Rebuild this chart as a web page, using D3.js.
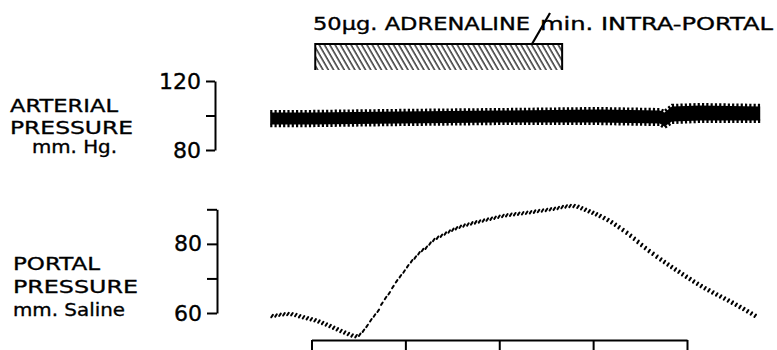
<!DOCTYPE html>
<html lang="en">
<head>
<script src="https://d3js.org/d3.v7.min.js"></script>
<style>
  body { margin: 0; background: #fff; }
  text { font-family: "DejaVu Sans", sans-serif; fill: #000; stroke: #000; stroke-width: 0.35; }
</style>
</head>
<body>
<script>
// time in minutes from start of infusion, one tick per minute
var timeTicks = [0, 1, 2, 3, 4];
var infusion = [0.04, 2.67];

// arterial pressure envelope (mm Hg)
var artTime = [-0.44, 0, 0.94, 2.0, 3.06, 3.71, 3.76, 3.84, 4.14, 4.78];
var artSys  = [103.2, 103.2, 103.8, 104.3, 104.9, 104.3, 103.2, 106.7, 107.2, 106.7];
var artDia  = [93.3, 93.3, 93.9, 94.5, 94.5, 93.9, 92.2, 95.1, 95.7, 95.7];
var artTicks = [80, 100, 120];
var artTickText = ["80", "", "120"];

// portal pressure (mm saline)
var portalTime  = [-0.42, -0.23, -0.09, 0.06, 0.20, 0.34, 0.48, 0.59, 0.65, 0.71, 0.76, 0.83, 0.88, 0.94,
                   1.00, 1.05, 1.10, 1.16, 1.23, 1.28, 1.40, 1.55, 1.69, 1.87, 2.04, 2.29, 2.57, 2.78,
                   2.94, 3.15, 3.36, 3.58, 3.79, 4.00, 4.17, 4.35, 4.53, 4.75];
var portalValue = [59.1, 59.7, 58.8, 57.7, 56.2, 54.5, 53.3, 56.2, 58.6, 60.6, 63.2, 65.8, 68.1, 70.4,
                   72.5, 74.5, 75.9, 77.7, 79.1, 80.6, 82.6, 84.6, 85.8, 87.0, 88.1, 89.0, 90.1, 91.0,
                   89.6, 87.0, 83.2, 78.3, 74.2, 70.4, 67.5, 64.9, 62.3, 58.8];
var portalTicks = [60, 70, 80, 90];
var portalTickText = ["60", "", "80", ""];

const svg = d3.select("body").append("svg")
  .attr("width", 777)
  .attr("height", 350);

const x = d3.scaleLinear().domain([0, 4]).range([311.5, 687]);
const yArt = d3.scaleLinear().domain([80, 120]).range([150, 81]);
const yPor = d3.scaleLinear().domain([60, 90]).range([313, 209.3]);

// hatch pattern for the infusion bar
const defs = svg.append("defs");
defs.append("pattern")
  .attr("id", "hatch")
  .attr("patternUnits", "userSpaceOnUse")
  .attr("width", 4.6).attr("height", 10)
  .attr("patternTransform", "rotate(-30)")
  .append("line")
  .attr("x1", 1).attr("y1", 0).attr("x2", 1).attr("y2", 10)
  .attr("stroke", "#000").attr("stroke-width", 1.2);

// infusion bar
const bx0 = x(infusion[0]), bx1 = x(infusion[1]);
svg.append("rect")
  .attr("x", bx0).attr("y", 44)
  .attr("width", bx1 - bx0).attr("height", 26)
  .attr("fill", "url(#hatch)");
svg.append("path")
  .attr("d", "M" + bx0 + ",70V44H" + bx1 + "V70")
  .attr("fill", "none").attr("stroke", "#000").attr("stroke-width", 2);

// title
svg.append("text").attr("x", 313).attr("y", 30)
  .attr("font-size", 17.5).attr("textLength", 217).attr("lengthAdjust", "spacingAndGlyphs")
  .text("50µg. ADRENALINE");
svg.append("text").attr("x", 540).attr("y", 30)
  .attr("font-size", 17.5).attr("textLength", 233).attr("lengthAdjust", "spacingAndGlyphs")
  .text("min. INTRA-PORTAL");
svg.append("line")
  .attr("x1", 532).attr("y1", 44).attr("x2", 550).attr("y2", 13)
  .attr("stroke", "#000").attr("stroke-width", 2.2);

// left labels
function label(txt, lx, ly, w) {
  svg.append("text").attr("x", lx).attr("y", ly)
    .attr("font-size", 18.5).attr("textLength", w).attr("lengthAdjust", "spacingAndGlyphs")
    .text(txt);
}
label("ARTERIAL", 10, 112, 108);
label("PRESSURE", 10, 134, 123);
label("mm. Hg.", 32, 153, 85);
label("PORTAL", 13, 270, 87);
label("PRESSURE", 13, 293, 125);
label("mm. Saline", 13, 316, 112);

function styleAxis(g) {
  g.select(".domain").attr("stroke-width", 2);
  g.selectAll(".tick line").attr("stroke-width", 2);
  g.selectAll(".tick text").attr("font-size", 22).attr("font-family", "DejaVu Sans, sans-serif");
}

svg.append("g").attr("transform", "translate(215,0)")
  .call(d3.axisLeft(yArt).tickValues(artTicks).tickSize(9).tickSizeOuter(0).tickPadding(5)
    .tickFormat((d, i) => artTickText[i]))
  .call(styleAxis);

svg.append("g").attr("transform", "translate(217,0)")
  .call(d3.axisLeft(yPor).tickValues(portalTicks).tickSize(10).tickSizeOuter(0).tickPadding(5)
    .tickFormat((d, i) => portalTickText[i]))
  .call(styleAxis);

svg.append("g").attr("transform", "translate(0,340)")
  .call(d3.axisBottom(x).tickValues(timeTicks).tickSize(10).tickSizeOuter(0).tickFormat(() => ""))
  .call(styleAxis);

// arterial trace: solid band with pulse teeth on both edges
const artIdx = d3.range(artTime.length);
svg.append("path")
  .attr("d", d3.area()
    .x(i => x(artTime[i]))
    .y0(i => yArt(artDia[i]) - 2.5)
    .y1(i => yArt(artSys[i]) + 2.5)(artIdx))
  .attr("fill", "#000");
[[artSys, 1.6], [artDia, -1.6]].forEach(function (e) {
  svg.append("path")
    .attr("d", d3.line().x(i => x(artTime[i])).y(i => yArt(e[0][i]) + e[1])(artIdx))
    .attr("fill", "none").attr("stroke", "#000")
    .attr("stroke-width", 3.4).attr("stroke-dasharray", "2.2,2.1");
});

// portal trace: pen marks along the curve
const porLine = d3.line()
  .x((d, i) => x(portalTime[i]))
  .y(d => yPor(d))
  .curve(d3.curveMonotoneX);
const guide = svg.append("path").attr("d", porLine(portalValue))
  .attr("fill", "none").attr("stroke", "none");
const node = guide.node(), L = node.getTotalLength();
const marks = [];
let nextX = -Infinity;
for (let s = 0; s <= L; s += 0.4) {
  const p = node.getPointAtLength(s);
  if (p.x >= nextX) { marks.push({ x: p.x, y: p.y }); nextX = p.x + 3.6; }
}
svg.append("g").selectAll("line").data(marks).join("line")
  .attr("x1", p => p.x - 0.8).attr("y1", p => p.y + 1.2)
  .attr("x2", p => p.x + 0.8).attr("y2", p => p.y - 1.2)
  .attr("stroke", "#000").attr("stroke-width", 2).attr("stroke-linecap", "round");
</script>
</body>
</html>
